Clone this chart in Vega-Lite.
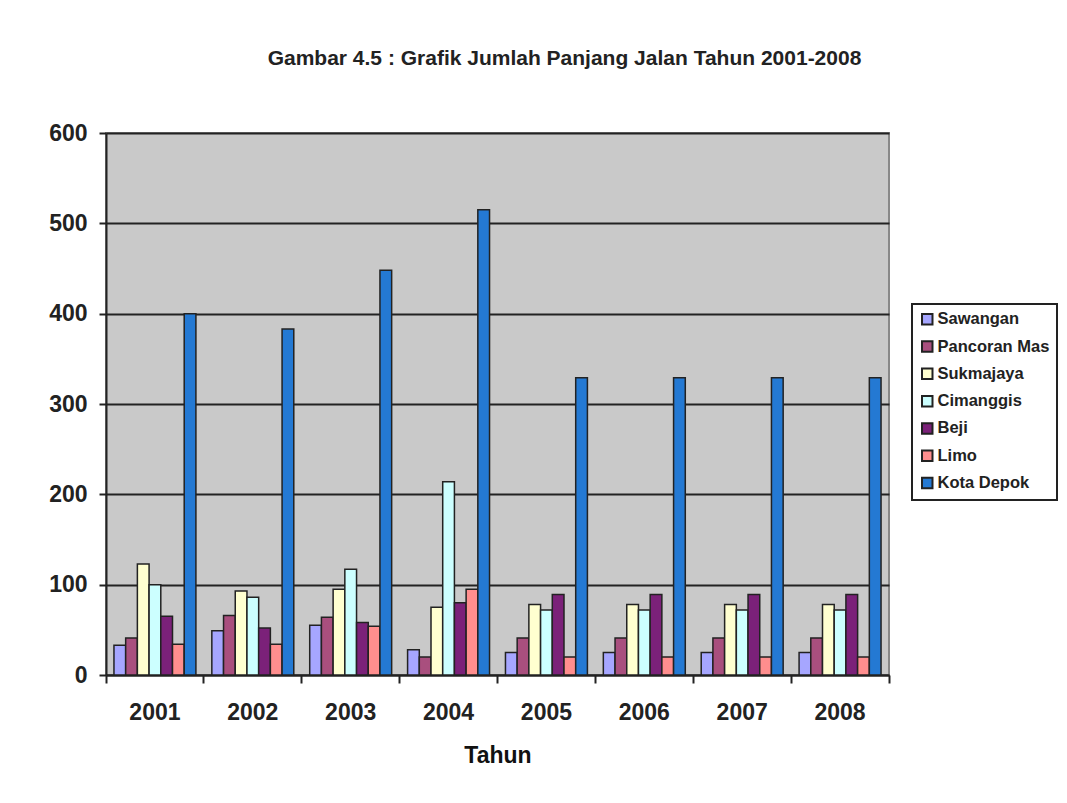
{
  "$schema": "https://vega.github.io/schema/vega-lite/v6.json",
  "width": 783,
  "height": 542,
  "autosize": {"type": "none"},
  "padding": {"left": 106, "top": 133, "right": 178, "bottom": 128},
  "background": "white",
  "title": {
    "text": "Gambar 4.5 : Grafik Jumlah Panjang Jalan Tahun 2001-2008",
    "font": "Liberation Sans",
    "fontSize": 21,
    "fontWeight": "bold",
    "color": "#222222",
    "anchor": "middle",
    "offset": 53,
    "dx": 67
  },
  "config": {
    "view": {"fill": "#C9C9C9", "stroke": "#888888", "strokeWidth": 2},
    "font": "Liberation Sans",
    "legend": {"strokeColor": "#222222", "strokeWidth": 2, "fillColor": "white"}
  },
  "data": {
    "values": [
      {"tahun": "2001", "wilayah": "Sawangan", "panjang": 33},
      {"tahun": "2001", "wilayah": "Pancoran Mas", "panjang": 41},
      {"tahun": "2001", "wilayah": "Sukmajaya", "panjang": 123},
      {"tahun": "2001", "wilayah": "Cimanggis", "panjang": 100},
      {"tahun": "2001", "wilayah": "Beji", "panjang": 65},
      {"tahun": "2001", "wilayah": "Limo", "panjang": 34},
      {"tahun": "2001", "wilayah": "Kota Depok", "panjang": 400},
      {"tahun": "2002", "wilayah": "Sawangan", "panjang": 49},
      {"tahun": "2002", "wilayah": "Pancoran Mas", "panjang": 66},
      {"tahun": "2002", "wilayah": "Sukmajaya", "panjang": 93},
      {"tahun": "2002", "wilayah": "Cimanggis", "panjang": 86},
      {"tahun": "2002", "wilayah": "Beji", "panjang": 52},
      {"tahun": "2002", "wilayah": "Limo", "panjang": 34},
      {"tahun": "2002", "wilayah": "Kota Depok", "panjang": 383},
      {"tahun": "2003", "wilayah": "Sawangan", "panjang": 55},
      {"tahun": "2003", "wilayah": "Pancoran Mas", "panjang": 64},
      {"tahun": "2003", "wilayah": "Sukmajaya", "panjang": 95},
      {"tahun": "2003", "wilayah": "Cimanggis", "panjang": 117},
      {"tahun": "2003", "wilayah": "Beji", "panjang": 58},
      {"tahun": "2003", "wilayah": "Limo", "panjang": 54},
      {"tahun": "2003", "wilayah": "Kota Depok", "panjang": 448},
      {"tahun": "2004", "wilayah": "Sawangan", "panjang": 28},
      {"tahun": "2004", "wilayah": "Pancoran Mas", "panjang": 20},
      {"tahun": "2004", "wilayah": "Sukmajaya", "panjang": 75},
      {"tahun": "2004", "wilayah": "Cimanggis", "panjang": 214},
      {"tahun": "2004", "wilayah": "Beji", "panjang": 80},
      {"tahun": "2004", "wilayah": "Limo", "panjang": 95},
      {"tahun": "2004", "wilayah": "Kota Depok", "panjang": 515},
      {"tahun": "2005", "wilayah": "Sawangan", "panjang": 25},
      {"tahun": "2005", "wilayah": "Pancoran Mas", "panjang": 41},
      {"tahun": "2005", "wilayah": "Sukmajaya", "panjang": 78},
      {"tahun": "2005", "wilayah": "Cimanggis", "panjang": 72},
      {"tahun": "2005", "wilayah": "Beji", "panjang": 89},
      {"tahun": "2005", "wilayah": "Limo", "panjang": 20},
      {"tahun": "2005", "wilayah": "Kota Depok", "panjang": 329},
      {"tahun": "2006", "wilayah": "Sawangan", "panjang": 25},
      {"tahun": "2006", "wilayah": "Pancoran Mas", "panjang": 41},
      {"tahun": "2006", "wilayah": "Sukmajaya", "panjang": 78},
      {"tahun": "2006", "wilayah": "Cimanggis", "panjang": 72},
      {"tahun": "2006", "wilayah": "Beji", "panjang": 89},
      {"tahun": "2006", "wilayah": "Limo", "panjang": 20},
      {"tahun": "2006", "wilayah": "Kota Depok", "panjang": 329},
      {"tahun": "2007", "wilayah": "Sawangan", "panjang": 25},
      {"tahun": "2007", "wilayah": "Pancoran Mas", "panjang": 41},
      {"tahun": "2007", "wilayah": "Sukmajaya", "panjang": 78},
      {"tahun": "2007", "wilayah": "Cimanggis", "panjang": 72},
      {"tahun": "2007", "wilayah": "Beji", "panjang": 89},
      {"tahun": "2007", "wilayah": "Limo", "panjang": 20},
      {"tahun": "2007", "wilayah": "Kota Depok", "panjang": 329},
      {"tahun": "2008", "wilayah": "Sawangan", "panjang": 25},
      {"tahun": "2008", "wilayah": "Pancoran Mas", "panjang": 41},
      {"tahun": "2008", "wilayah": "Sukmajaya", "panjang": 78},
      {"tahun": "2008", "wilayah": "Cimanggis", "panjang": 72},
      {"tahun": "2008", "wilayah": "Beji", "panjang": 89},
      {"tahun": "2008", "wilayah": "Limo", "panjang": 20},
      {"tahun": "2008", "wilayah": "Kota Depok", "panjang": 329}
    ]
  },
  "mark": {"type": "bar", "stroke": "#222222", "strokeWidth": 1.5, "opacity": 1},
  "encoding": {
    "x": {
      "field": "tahun",
      "type": "nominal",
      "scale": {"paddingInner": 0, "paddingOuter": 0},
      "axis": {
        "title": "Tahun",
        "titleFont": "Liberation Sans",
        "titleFontSize": 23,
        "titleFontWeight": "bold",
        "titleColor": "#111111",
        "titlePadding": 20,
        "labelAngle": 0,
        "labelFont": "Liberation Sans",
        "labelFontSize": 23,
        "labelFontWeight": "bold",
        "labelColor": "#222222",
        "labelPadding": 18,
        "bandPosition": 1,
        "tickExtra": true,
        "labelOffset": 0,
        "ticks": true,
        "tickSize": 8,
        "tickColor": "#222222",
        "tickWidth": 2,
        "domainColor": "#222222",
        "domainWidth": 2,
        "grid": false
      }
    },
    "xOffset": {
      "field": "wilayah",
      "type": "nominal",
      "sort": ["Sawangan", "Pancoran Mas", "Sukmajaya", "Cimanggis", "Beji", "Limo", "Kota Depok"],
      "scale": {"paddingInner": 0, "paddingOuter": 0.68}
    },
    "y": {
      "field": "panjang",
      "type": "quantitative",
      "scale": {"domain": [0, 600], "nice": false},
      "axis": {
        "title": null,
        "values": [0, 100, 200, 300, 400, 500, 600],
        "labelFont": "Liberation Sans",
        "labelFontSize": 23,
        "labelFontWeight": "bold",
        "labelColor": "#222222",
        "labelPadding": 12,
        "tickSize": 7,
        "tickColor": "#222222",
        "tickWidth": 2,
        "domainColor": "#222222",
        "domainWidth": 2,
        "grid": true,
        "gridColor": "#222222",
        "gridWidth": 2
      }
    },
    "color": {
      "field": "wilayah",
      "type": "nominal",
      "sort": ["Sawangan", "Pancoran Mas", "Sukmajaya", "Cimanggis", "Beji", "Limo", "Kota Depok"],
      "scale": {
        "domain": ["Sawangan", "Pancoran Mas", "Sukmajaya", "Cimanggis", "Beji", "Limo", "Kota Depok"],
        "range": ["#A6A6FF", "#A94F7E", "#FFFFD0", "#CCFFFF", "#7B2179", "#FF8E8E", "#2479D3"]
      },
      "legend": {
        "title": null,
        "orient": "none",
        "legendX": 806,
        "legendY": 171,
        "symbolType": "square",
        "symbolSize": 110,
        "symbolStrokeColor": "#222222",
        "symbolStrokeWidth": 2,
        "symbolOpacity": 1,
        "labelFont": "Liberation Sans",
        "labelFontSize": 16.5,
        "labelFontWeight": "bold",
        "labelColor": "#222222",
        "labelOffset": 2,
        "rowPadding": 8.3,
        "padding": 7,
        "strokeColor": "#222222",
        "fillColor": "white",
        "labelLimit": 200
      }
    }
  }
}
